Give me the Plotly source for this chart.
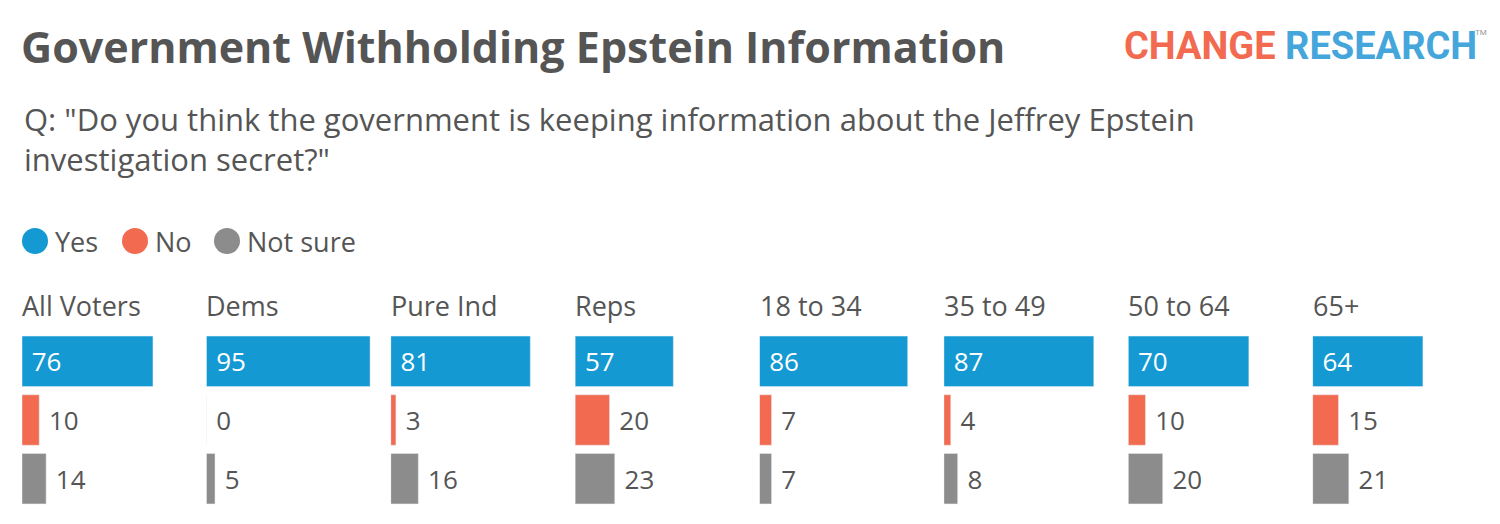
import plotly.graph_objects as go
from plotly.subplots import make_subplots

groups = ["All Voters", "Dems", "Pure Ind", "Reps", "18 to 34", "35 to 49", "50 to 64", "65+"]
yes = [76, 95, 81, 57, 86, 87, 70, 64]
no = [10, 0, 3, 20, 7, 4, 10, 15]
not_sure = [14, 5, 16, 23, 7, 8, 20, 21]
answers = ["Yes", "No", "Not sure"]

BLUE = "#1499D3"
RED = "#F26B50"
GREY = "#8C8C8C"
TEXT = "#555555"
FONT = "Open Sans"
TOP = 332  # pixel reference for header items

fig = make_subplots(rows=1, cols=len(groups), horizontal_spacing=0, shared_yaxes=True)

for i, g in enumerate(groups):
    vals = [yes[i], no[i], not_sure[i]]
    fig.add_trace(go.Bar(
        x=vals, y=answers, orientation="h",
        marker_color=[BLUE, RED, GREY], width=0.86,
        text=[" " + str(vals[0]), " " + str(vals[1]), " " + str(vals[2])],
        textposition=["inside", "outside", "outside"],
        insidetextanchor="start",
        textfont=dict(size=26, color=["white", TEXT, TEXT], family=FONT),
        outsidetextfont=dict(size=26, color=TEXT, family=FONT),
        cliponaxis=False, showlegend=False, hoverinfo="skip",
    ), row=1, col=i + 1)
    fig.update_xaxes(range=[0, 107], visible=False, row=1, col=i + 1)
    fig.add_annotation(text=g, xref=f"x{i + 1 if i else ''} domain", yref="paper",
                       x=0, y=1, yshift=27, xanchor="left", yanchor="middle", xshift=-2,
                       showarrow=False, font=dict(size=27, color=TEXT, family=FONT))

fig.update_yaxes(visible=False, autorange="reversed", categoryorder="array", categoryarray=answers)

# title, subtitle, logo
fig.add_annotation(text="<b>Government Withholding Epstein Information</b>", xref="paper", yref="paper",
                   x=0, y=1, xanchor="left", yanchor="middle", yshift=TOP - 46, xshift=-3, showarrow=False,
                   font=dict(size=43, color=TEXT, family=FONT))
fig.add_annotation(text='Q: "Do you think the government is keeping information about the Jeffrey Epstein<br>investigation secret?"',
                   xref="paper", yref="paper", x=0, y=1, xanchor="left", yanchor="top", yshift=TOP - 96,
                   align="left", showarrow=False, font=dict(size=31, color=TEXT, family=FONT))
fig.add_annotation(text=f'<b><span style="color:{RED}">CHANGE</span> <span style="color:#45A6DC">RESEARCH</span></b>',
                   xref="paper", yref="paper", x=1, y=1, xanchor="right", yanchor="middle", yshift=TOP - 46,
                   xshift=-18, showarrow=False, font=dict(size=38, family="Roboto"))
fig.add_annotation(text="TM", xref="paper", yref="paper", x=1, y=1, xanchor="right", yanchor="middle",
                   yshift=TOP - 32, xshift=-8, showarrow=False, font=dict(size=8, color="#999999", family="Roboto"))

# legend
legend_x = [22, 122, 214]
for lx, lab, col in zip(legend_x, answers, [BLUE, RED, GREY]):
    fig.add_shape(type="circle", xref="paper", yref="paper", xsizemode="pixel", ysizemode="pixel",
                  xanchor=0, yanchor=1, x0=lx - 22, x1=lx - 22 + 26, y0=TOP - 254, y1=TOP - 228,
                  fillcolor=col, line_width=0)
    fig.add_annotation(text=lab, xref="paper", yref="paper", x=0, y=1, xshift=lx + 31 - 22, yshift=TOP - 241,
                       xanchor="left", yanchor="middle", showarrow=False,
                       font=dict(size=27, color=TEXT, family=FONT))

fig.update_layout(
    width=1500, height=524, barmode="group", bargap=0.14,
    margin=dict(l=14, r=11, t=324, b=24, autoexpand=False),
    plot_bgcolor="white", paper_bgcolor="white",
    font=dict(family=FONT, color=TEXT),
)

fig.write_html("out.html")
